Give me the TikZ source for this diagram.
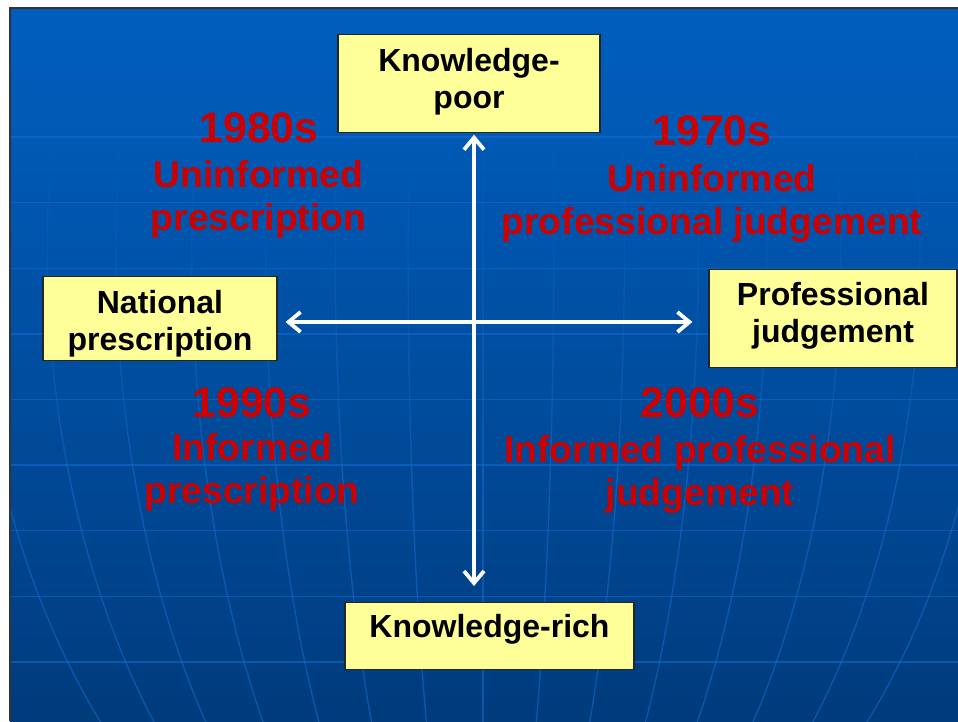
\documentclass[tikz,border=0pt]{standalone}
\usepackage{fontspec}
\setmainfont{Liberation Sans}
\usetikzlibrary{arrows.meta,calc}
\definecolor{boxfill}{RGB}{255,255,153}
\definecolor{redtxt}{RGB}{204,0,0}
\definecolor{gridc}{RGB}{20,112,214}
\definecolor{bgA}{RGB}{0,38,80}
\definecolor{bgB}{RGB}{0,66,138}
\definecolor{bgC}{RGB}{0,90,182}
\definecolor{bgD}{RGB}{0,104,206}
\pgfdeclareverticalshading{slidebg}{100bp}{color(0bp)=(bgA); color(34bp)=(bgB); color(67bp)=(bgC); color(100bp)=(bgD)}
\begin{document}
\begin{tikzpicture}[x=1pt,y=-1pt,
  gridline/.style={draw=gridc, opacity=0.5, line width=1.4pt},
  box/.style={draw=black!85, line width=1.2pt, fill=boxfill,
    font=\fontsize{32}{37}\selectfont\bfseries, align=center,
    inner xsep=0pt, inner ysep=0pt, anchor=north},
  year/.style={text=redtxt, font=\fontsize{42.7}{48}\selectfont\bfseries,
    anchor=base, inner sep=0pt},
  desc/.style={text=redtxt, font=\fontsize{37.3}{42.5}\selectfont\bfseries,
    align=center, anchor=base, inner sep=0pt},
  axis/.style={white, line width=3.8pt,
    {Straight Barb[length=12pt,width=20pt]}-{Straight Barb[length=12pt,width=20pt]}}
]
\useasboundingbox (0,0) rectangle (958,721);
\fill[white] (0,0) rectangle (958,721);
\fill[shading=slidebg] (10,8) rectangle (958,721);
\begin{scope}
  \clip (10,8) rectangle (958,721);
  \foreach \k in {0,...,8}
    \draw[gridline] (10,{137+65.6*\k}) -- (958,{137+65.6*\k});
  \foreach \xf in {3,70,135,207,277,343,412,483,550,617,687,752,822,897,965}{
    \foreach \s in {0,...,11}{
      \pgfmathsetmacro\ya{100+52*\s}
      \pgfmathsetmacro\yb{\ya+52}
      \pgfmathsetmacro\op{min(0.5,0.04+0.46*\s/7)}
      \draw[gridline, opacity=\op] plot[domain=\ya:\yb,samples=6,variable=\t]
        ({483+(\xf-483)/0.9476*sqrt(1-((\t-250)/720)^2)},\t);
    }
  }
\end{scope}
\draw[line width=2pt, color=black!80] (10,721) -- (10,8) -- (958,8);

% boxes (multi-line: baseline is that of the last line)
\node[box, minimum width=262pt, text height=74pt, text depth=24pt] (kp) at (469,34) {Knowledge-\\poor};
\node[box, minimum width=234pt, text height=74pt, text depth=10pt] (np) at (160,276) {National\\prescription};
\node[box, minimum width=248pt, text height=73pt, text depth=25pt] (pj) at (833,269) {Professional\\judgement};
\node[box, minimum width=289pt, text height=35pt, text depth=32pt] (kr) at (489.5,602) {Knowledge-rich};

% axes
\coordinate (ctr) at (474,322);
\draw[axis, shorten <=1.5pt, shorten >=16pt] (kp.south -| ctr) -- (kr.north -| ctr);
\draw[axis, shorten <=8pt, shorten >=16pt] (np.east |- ctr) -- (pj.west |- ctr);

% quadrant labels
\node[year] (y80) at (259,142) {1980s};
\node[desc] (d80) at (258.5,230) {Uninformed\\prescription};
\node[year] (y70) at (712,145) {1970s};
\node[desc] (d70) at (712,234) {Uninformed\\professional judgement};
\node[year] (y90) at (252,417) {1990s};
\node[desc] (d90) at (252,503) {Informed\\prescription};
\node[year] (y00) at (700,417) {2000s};
\node[desc] (d00) at (700,505) {Informed professional\\judgement};
\end{tikzpicture}
\end{document}
